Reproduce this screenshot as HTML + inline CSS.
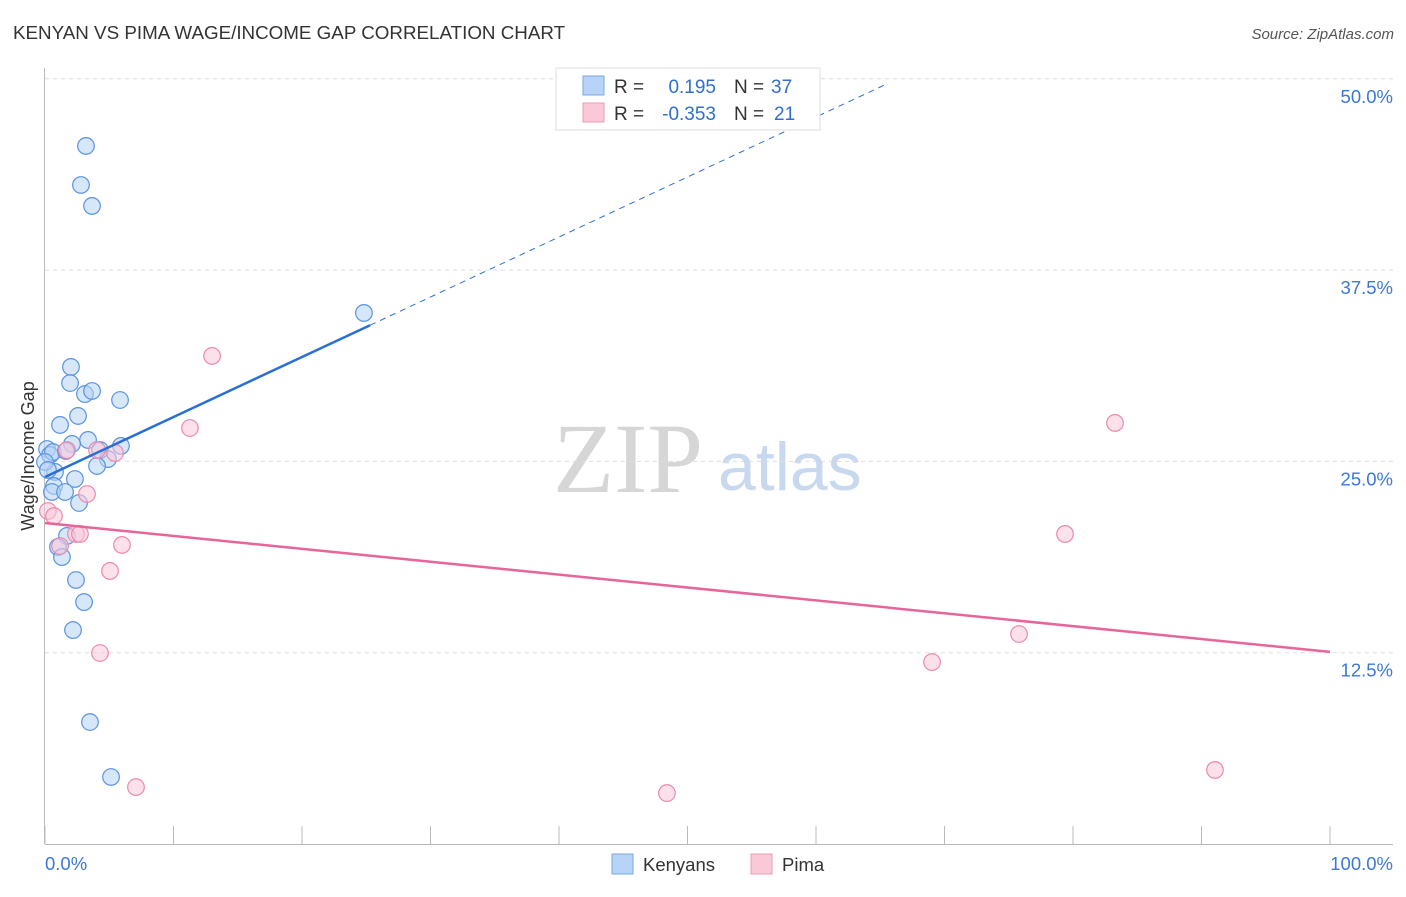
<!DOCTYPE html>
<html><head><meta charset="utf-8"><style>
body{margin:0;background:#fff;font-family:"Liberation Sans",sans-serif;}
</style></head><body>
<svg id="c" width="1406" height="892" viewBox="0 0 1406 892" xmlns="http://www.w3.org/2000/svg" font-family="Liberation Sans, sans-serif">
<text x="13" y="39" font-size="18.8" fill="#333">KENYAN VS PIMA WAGE/INCOME GAP CORRELATION CHART</text>
<text x="1394" y="39" font-size="15" fill="#555" font-style="italic" text-anchor="end">Source: ZipAtlas.com</text>
<g>
<text x="553" y="492" font-size="100" style="font-family:'Liberation Serif',serif" fill="#d6d6d6">ZIP</text>
<text x="718" y="490" font-size="68" fill="#c8d8ee">atlas</text>
</g>
<g id="grid"></g><g id="axes"></g><g id="marks"></g>
<text transform="translate(34,456) rotate(-90)" font-size="18" fill="#333" text-anchor="middle">Wage/Income Gap</text>
<g>
<rect x="556" y="68" width="264" height="62" fill="#fff" stroke="#ddd"/>
<rect x="583" y="76" width="21" height="19" fill="#b7d3f5" stroke="#7aaae8"/>
<rect x="583" y="103" width="21" height="19" fill="#f9c9d8" stroke="#ee9ab5"/>
<text x="614" y="93" font-size="19" fill="#333">R =</text>
<text x="716" y="93" font-size="19" fill="#2f6fd0" text-anchor="end">0.195</text>
<text x="734" y="93" font-size="19" fill="#333">N =</text>
<text x="771" y="93" font-size="19" fill="#2f6fd0">37</text>
<text x="614" y="120" font-size="19" fill="#333">R =</text>
<text x="716" y="120" font-size="19" fill="#2f6fd0" text-anchor="end">-0.353</text>
<text x="734" y="120" font-size="19" fill="#333">N =</text>
<text x="774" y="120" font-size="19" fill="#2f6fd0">21</text>
</g>
<g>
<rect x="612" y="854" width="21" height="20" fill="#b7d3f5" stroke="#7aaae8"/>
<text x="643" y="871" font-size="18.5" fill="#333">Kenyans</text>
<rect x="751" y="854" width="21" height="20" fill="#f9c9d8" stroke="#ee9ab5"/>
<text x="782" y="871" font-size="18.5" fill="#333">Pima</text>
</g>
</svg>
<script>
const yTicks=[12.5,25,37.5,50];
const yTickLabels=["12.5%","25.0%","37.5%","50.0%"];
const xTickLabels=["0.0%","100.0%"];
const kenX=[3.19,2.80,3.66,24.82,2.02,1.95,3.11,3.66,5.84,1.17,2.57,3.35,2.10,5.91,4.28,4.90,4.05,0.16,0.39,0.62,1.63,0.78,2.33,0.70,0.54,1.56,2.65,1.71,1.01,1.32,2.41,3.04,2.18,3.50,5.14,0.0,0.23];
const kenY=[45.61,43.06,41.69,34.70,31.17,30.12,29.40,29.60,29.01,27.38,27.97,26.40,26.14,26.01,25.74,25.15,24.70,25.81,25.42,25.61,25.68,24.31,23.85,23.39,23.00,23.00,22.28,20.13,19.41,18.75,17.25,15.81,13.98,7.97,4.38,24.96,24.44];
const pimaX=[13.00,11.28,83.27,1.71,5.45,3.27,0.23,0.70,2.41,2.72,5.99,1.17,5.06,79.38,75.80,69.03,4.28,7.08,48.40,91.05,4.05];
const pimaY=[31.89,27.18,27.51,25.74,25.55,22.87,21.76,21.43,20.26,20.26,19.54,19.47,17.84,20.26,13.72,11.89,12.48,3.72,3.33,4.84,25.74];
const kenTrend=[23.98,0.392];
const pimaTrend=[20.97,-0.0842];
const NS="http://www.w3.org/2000/svg";
const xs=v=>45+v*12.85;
const ys=v=>844-v*15.305;
function mk(tag,attrs,parent){const e=document.createElementNS(NS,tag);for(const k in attrs)e.setAttribute(k,attrs[k]);document.getElementById(parent).appendChild(e);return e;}
yTicks.forEach((t,i)=>{
 const g=mk('line',{x1:45,x2:1393,y1:ys(t),y2:ys(t),stroke:'#ddd','stroke-dasharray':'4,4'},'grid');
 
 
 const l=mk('text',{x:1393,y:ys(t)+24,'font-size':18.5,fill:'#3b78d8','text-anchor':'end'},'axes');
 l.textContent=yTickLabels[i];
 
 
});
let a=mk('line',{x1:44.5,x2:44.5,y1:68,y2:844,stroke:'#bbb'},'axes');


a=mk('line',{x1:45,x2:1393,y1:844.5,y2:844.5,stroke:'#bbb'},'axes');


for(let i=0;i<=10;i++){const t=mk('line',{x1:xs(i*10),x2:xs(i*10),y1:826,y2:844,stroke:'#bbb'},'axes');
 
 }
[[0,'start',45],[100,'end',1393]].forEach((d,i)=>{const t=mk('text',{x:d[2],y:870,'font-size':18.5,fill:'#3b78d8','text-anchor':d[1]},'axes');t.textContent=xTickLabels[i];
 
 });
function pts(X,Y,fill,stroke,name){X.forEach((x,i)=>{const c=mk('circle',{cx:xs(x),cy:ys(Y[i]),r:8.3,fill:fill,'fill-opacity':0.55,stroke:stroke,'stroke-width':1.2},'marks');
 
 });}
pts(kenX,kenY,'#b7d3f5','#5a93e0','kenyan-point');
pts(pimaX,pimaY,'#f9c9d8','#ec8aab','pima-point');
let l=mk('line',{x1:xs(0),y1:ys(kenTrend[0]),x2:xs(25.3),y2:ys(kenTrend[0]+kenTrend[1]*25.3),stroke:'#2a6fd6','stroke-width':2.5},'marks');


l=mk('line',{x1:xs(25.3),y1:ys(kenTrend[0]+kenTrend[1]*25.3),x2:xs(65.6),y2:ys(kenTrend[0]+kenTrend[1]*65.6),stroke:'#2a6fd6','stroke-width':1,'stroke-dasharray':'6,5'},'marks');


l=mk('line',{x1:xs(0),y1:ys(pimaTrend[0]),x2:xs(100),y2:ys(pimaTrend[0]+pimaTrend[1]*100),stroke:'#e8649a','stroke-width':2.5},'marks');


</script>
</body></html>
